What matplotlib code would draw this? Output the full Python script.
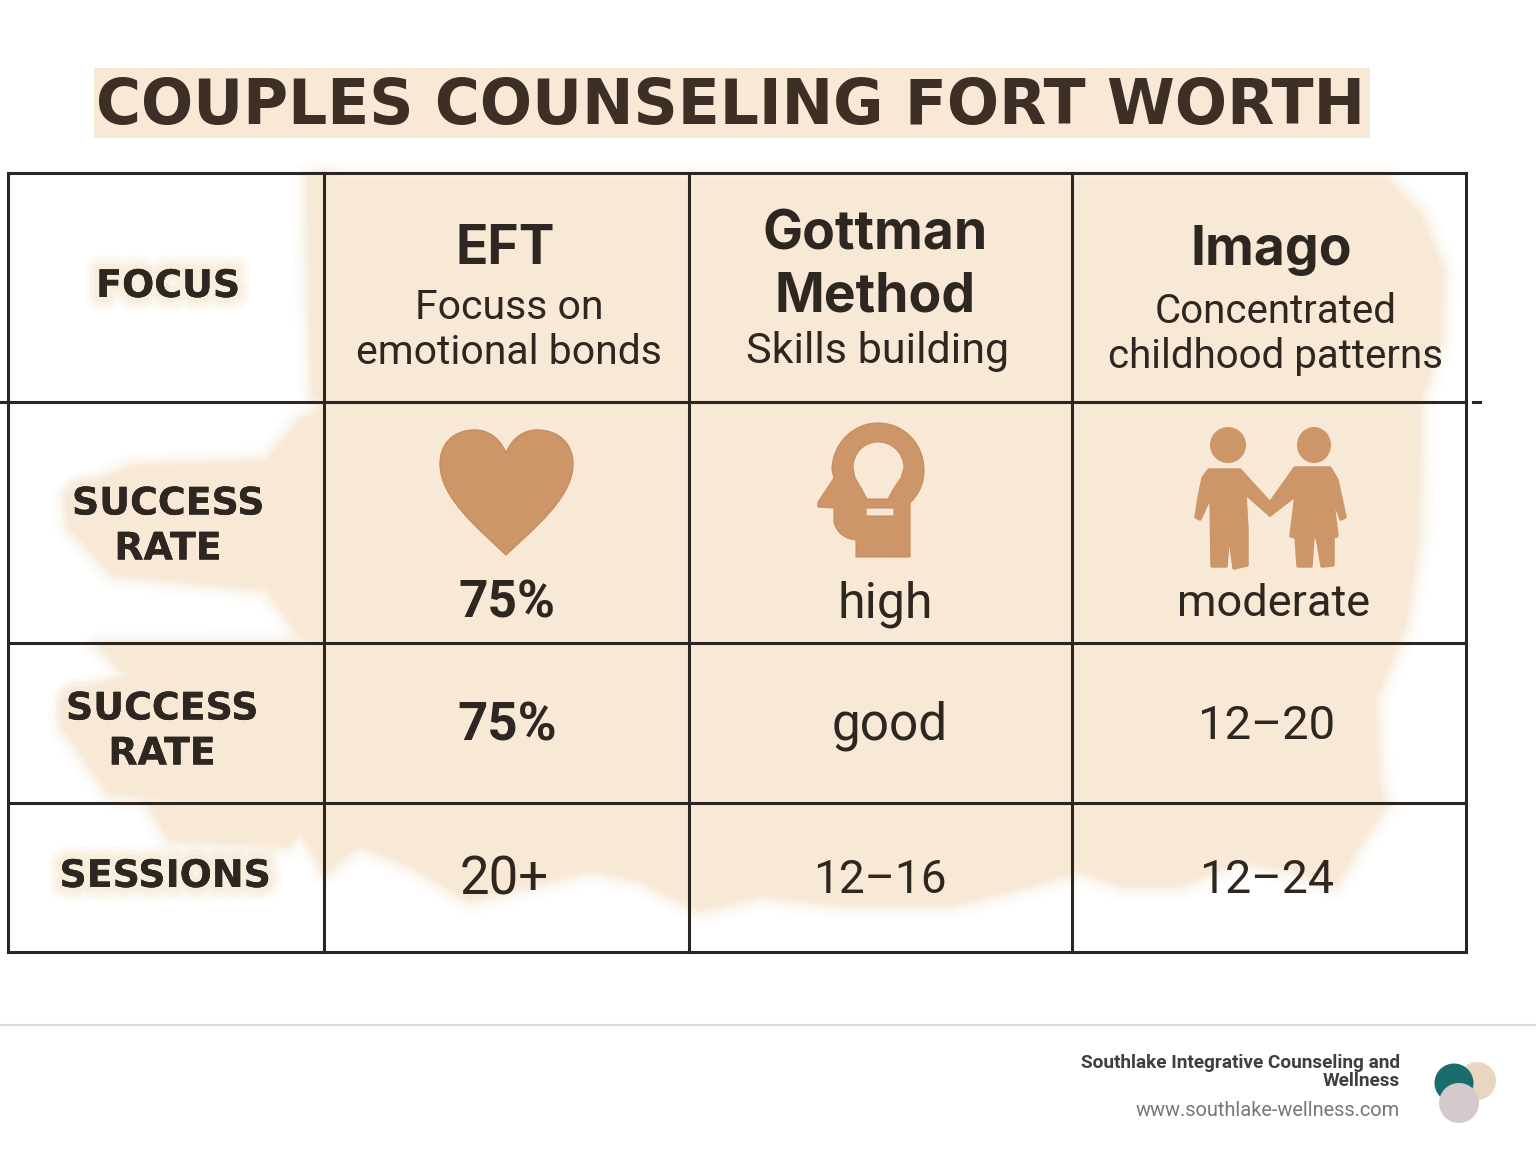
#!/usr/bin/env python3

import matplotlib
matplotlib.use('Agg')
import matplotlib.pyplot as plt
import matplotlib.patheffects as pe
from matplotlib.patches import Circle, Ellipse, PathPatch, Polygon, Rectangle
from matplotlib.path import Path

title = 'COUPLES COUNSELING FORT WORTH'
row_labels = ['FOCUS', 'SUCCESS\nRATE', 'SUCCESS\nRATE', 'SESSIONS']
methods = ['EFT', 'Gottman\nMethod', 'Imago']
focus = ['Focuss on\nemotional bonds', 'Skills building', 'Concentrated\nchildhood patterns']
rating = ['75%', 'high', 'moderate']
success = ['75%', 'good', '12–20']
sessions = ['20+', '12–16', '12–24']
org_name = 'Southlake Integrative Counseling and\nWellness'
org_url = 'www.southlake-wellness.com'

INK = '#2e2621'
LINE = '#2b2622'
WASH = '#f8e9d6'
ICON = '#cd9669'
ICON_EDGE = '#c98c5c'

# positions in picture pixels
col_x = [8, 324, 689, 1072, 1466]
row_y = [173, 402, 643, 803, 952]
label_pos = [(168, 287), (168, 527), (162, 732), (165, 877)]
method_pos = [(505, 250), (875, 266), (1271, 251)]
focus_pos = [(509, 330), (878, 352), (1276, 334)]
rating_pos = [(507, 603), (885, 604), (1274, 604)]
success_pos = [(507, 726), (890, 726), (1267, 726)]
sessions_pos = [(504, 880), (880, 880), (1267, 880)]

# font sizes
focus_size = [29.5, 31, 29]
rating_size = [37, 36, 32.5]
success_size = [38, 37, 34]
sessions_size = [38, 33, 33.5]

fig = plt.figure(figsize=(15.36, 11.54), dpi=100)
ax = fig.add_axes([0, 0, 1, 1])
ax.set_xlim(0, 1536)
ax.set_ylim(1154, 0)
ax.axis('off')


def soft_poly(points, z=1):
    # feathered edge, wide faint strokes under a solid fill
    for lw, a in [(22, 0.12), (15, 0.18), (9, 0.3), (4, 0.5)]:
        ax.add_patch(Polygon(points, closed=True, fc='none', ec=WASH, lw=lw, alpha=a,
                             joinstyle='round', zorder=z))
    ax.add_patch(Polygon(points, closed=True, fc=WASH, ec='none', zorder=z))


# beige wash behind the table
wash_main = [(325, 178), (1385, 178), (1420, 215), (1442, 270), (1440, 340), (1420, 400),
             (1418, 540), (1405, 625), (1375, 700), (1378, 780), (1385, 805), (1355, 850),
             (1335, 885), (1290, 870), (1240, 860), (1180, 885), (1120, 885), (1080, 870),
             (1030, 885), (950, 905), (850, 905), (760, 895), (700, 910), (640, 880),
             (590, 870), (530, 885), (470, 900), (410, 865), (360, 845), (325, 870)]
wash_left = [(325, 410), (325, 640), (300, 635), (267, 589), (113, 574), (70, 528),
             (67, 497), (133, 467), (267, 462), (300, 421)]
wash_row3 = [(325, 645), (325, 804), (110, 794), (63, 727), (63, 702), (127, 676), (100, 646)]
wash_row4 = [(325, 805), (325, 865), (300, 832), (287, 845), (170, 840), (150, 805)]
wash_top = [(325, 178), (325, 400), (314, 395), (310, 300), (308, 178)]
for shape in [wash_left, wash_row3, wash_row4, wash_top, wash_main]:
    soft_poly(shape)

# title band
ax.add_patch(Rectangle((94, 68), 1276, 70, fc=WASH, ec='none', zorder=1))
ax.text(731, 107, title, family='DejaVu Sans', weight='bold', fontsize=44.3, color='#3d2e26',
        ha='center', va='center', zorder=5)

# grid
for x in col_x:
    ax.plot([x, x], [row_y[0], row_y[-1]], color=LINE, lw=2.2, zorder=3, solid_capstyle='projecting')
for y in row_y:
    ax.plot([col_x[0], col_x[-1]], [y, y], color=LINE, lw=2.2, zorder=3, solid_capstyle='projecting')
ax.plot([0, col_x[0]], [row_y[1], row_y[1]], color=LINE, lw=2.2, zorder=3)
ax.plot([1473, 1480], [row_y[1], row_y[1]], color=LINE, lw=2.2, zorder=3)

# row labels with a soft glow
glow = [pe.withStroke(linewidth=w, foreground=WASH, alpha=a) for w, a in [(20, 0.2), (14, 0.35), (8, 0.6)]]
for label, (x, y) in zip(row_labels, label_pos):
    ax.text(x, y, label, family='DejaVu Sans', weight='bold', fontsize=27.3, color=INK,
            ha='center', va='center', linespacing=1.32, zorder=5,
            path_effects=glow + [pe.Normal()])

for s, (x, y) in zip(methods, method_pos):
    ax.text(x, y, s, family='Inter', weight='bold', fontsize=38.5, color=INK,
            ha='center', va='center', linespacing=1.25, zorder=5)
for s, (x, y), size in zip(focus, focus_pos, focus_size):
    ax.text(x, y, s, family='Roboto', fontsize=size, color=INK,
            ha='center', va='center', linespacing=1.17, zorder=5)
for values, positions, sizes in [(rating, rating_pos, rating_size), (success, success_pos, success_size),
                                 (sessions, sessions_pos, sessions_size)]:
    for s, (x, y), size in zip(values, positions, sizes):
        bold = s == '75%'
        ax.text(x, y, s, family='Roboto', weight='semibold' if bold else 'normal', fontsize=size,
                color=INK, ha='center', va='center', zorder=5)

# heart icon
heart = Path(
    [(506, 453), (500, 438), (488, 430), (475, 430), (452, 430), (440, 445), (440, 464),
     (440, 498), (480, 530), (506, 555),
     (532, 530), (573, 498), (573, 464), (573, 445), (560, 430), (537, 430), (524, 430), (512, 438),
     (506, 453), (506, 453)],
    [Path.MOVETO, Path.CURVE4, Path.CURVE4, Path.CURVE4, Path.CURVE4, Path.CURVE4, Path.CURVE4,
     Path.CURVE4, Path.CURVE4, Path.CURVE4,
     Path.CURVE4, Path.CURVE4, Path.CURVE4, Path.CURVE4, Path.CURVE4, Path.CURVE4, Path.CURVE4, Path.CURVE4,
     Path.CURVE4, Path.CLOSEPOLY])
ax.add_patch(PathPatch(heart, fc=ICON, ec=ICON_EDGE, lw=1, zorder=4))

# head with bulb icon
head_v = [(878, 423), (905, 423), (924, 445), (924, 470), (924, 485), (918, 495), (910, 503),
          (910, 557), (856, 557), (856, 540), (838, 538), (834, 522), (834, 508), (818, 507),
          (818, 502), (834, 478), (832, 470), (832, 445), (852, 423), (878, 423), (878, 423),
          (878, 442), (864, 442), (853, 453), (853, 468), (855, 478), (861, 488), (867, 499),
          (888, 499), (894, 488), (901, 478), (904, 468), (904, 453), (892, 442), (878, 442), (878, 442),
          (866, 508), (866, 516), (894, 516), (894, 508), (866, 508)]
head_c = [Path.MOVETO, Path.CURVE4, Path.CURVE4, Path.CURVE4, Path.CURVE4, Path.CURVE4, Path.CURVE4,
          Path.LINETO, Path.LINETO, Path.LINETO, Path.CURVE3, Path.CURVE3, Path.LINETO, Path.LINETO,
          Path.LINETO, Path.LINETO, Path.LINETO, Path.CURVE4, Path.CURVE4, Path.CURVE4, Path.CLOSEPOLY,
          Path.MOVETO, Path.CURVE4, Path.CURVE4, Path.CURVE4, Path.LINETO, Path.LINETO, Path.LINETO,
          Path.LINETO, Path.LINETO, Path.LINETO, Path.LINETO, Path.CURVE4, Path.CURVE4, Path.CURVE4, Path.CLOSEPOLY,
          Path.MOVETO, Path.LINETO, Path.LINETO, Path.LINETO, Path.CLOSEPOLY]
ax.add_patch(PathPatch(Path(head_v, head_c), fc=ICON, ec=ICON_EDGE, lw=0.8, zorder=4))

# couple icon
ax.add_patch(Ellipse((1228, 445), 36, 36, fc=ICON, ec='none', zorder=4))
ax.add_patch(Ellipse((1314, 445), 34, 36, fc=ICON, ec='none', zorder=4))
man = [(1209, 470), (1240, 470), (1270, 503), (1270, 515), (1245, 493), (1247, 530), (1247, 565),
       (1234, 568), (1229, 530), (1226, 566), (1212, 566), (1211, 495), (1200, 519), (1196, 517),
       (1199, 498), (1203, 478)]
woman = [(1295, 468), (1330, 468), (1337, 480), (1345, 517), (1341, 519), (1332, 495), (1337, 536),
         (1333, 537), (1333, 565), (1322, 566), (1317, 537), (1313, 537), (1311, 566), (1298, 566),
         (1296, 537), (1291, 536), (1296, 495), (1270, 515), (1270, 503)]
for shape in [man, woman]:
    ax.add_patch(Polygon(shape, closed=True, fc=ICON, ec=ICON, lw=2.5, joinstyle='round', zorder=4))

# footer
ax.plot([0, 1536], [1025, 1025], color='#e2d6db', lw=1.6, zorder=2)
ax.text(1400, 1072, org_name, family='Roboto', weight='bold', fontsize=13.65, color='#3f3f3f',
        ha='right', va='center', linespacing=1.0, zorder=5)
ax.text(1400, 1111, org_url, family='Roboto', fontsize=14.4, color='#777777',
        ha='right', va='center', zorder=5)
ax.add_patch(Circle((1477, 1081), 19, fc='#e9d5c0', ec='none', zorder=4))
ax.add_patch(Circle((1454, 1083), 19.5, fc='#1a6d6c', ec='none', zorder=5))
ax.add_patch(Circle((1459, 1103), 20, fc='#d4cacb', ec='none', zorder=6))

fig.savefig('out.png', dpi=100, facecolor='white')
plt.close(fig)
